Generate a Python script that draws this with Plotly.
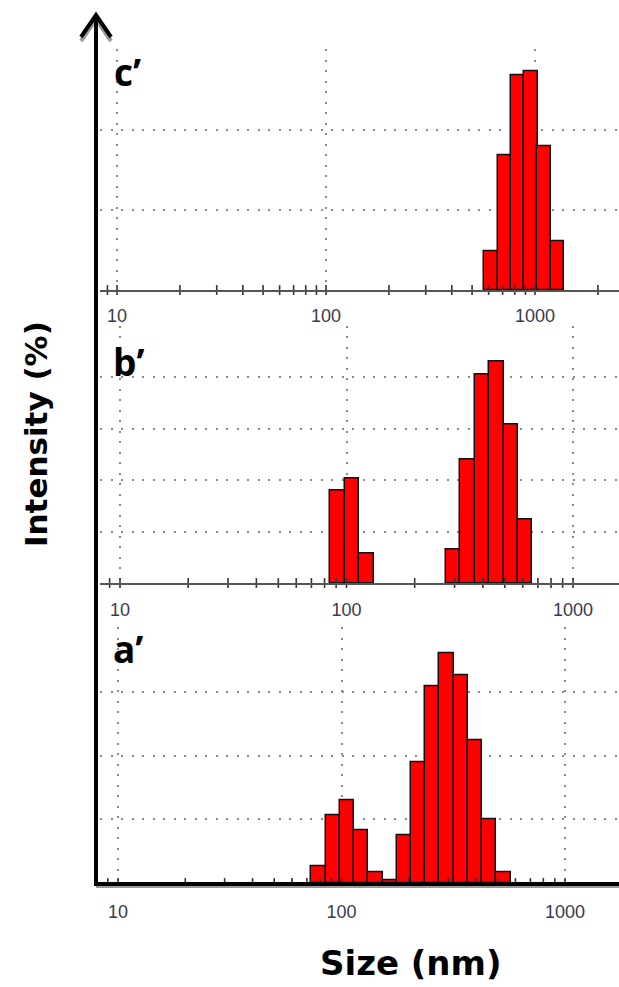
import numpy as np
import plotly.graph_objects as go

# ---------------- data ----------------
sizes_a = [78.82, 91.28, 105.7, 122.4, 141.8, 164.2, 190.1, 220.2, 255.0, 295.3, 342.0, 396.1, 458.7, 531.2]
intensity_a = [1.3, 5.3, 6.5, 4.1, 0.8, 0.2, 3.7, 9.5, 15.4, 18.0, 16.3, 11.2, 5.0, 0.8]
sizes_b = [91.28, 105.7, 122.4, 295.3, 342.0, 396.1, 458.7, 531.2, 615.1]
intensity_b = [9.0, 10.1, 2.9, 3.3, 12.0, 20.2, 21.5, 15.4, 6.2]
sizes_c = [615.1, 712.4, 825.0, 955.4, 1106, 1281]
intensity_c = [4.9, 16.9, 26.9, 27.4, 18.0, 6.1]
tick_vals_nm = [10, 100, 1000]
tick_text = ["10", "100", "1000"]
panel_labels = ["a’", "b’", "c’"]
x_title = "Size (nm)"
y_title = "Intensity (%)"
bin_ratio = 1.1581  # Malvern size-class ratio

W, H = 619, 987
def xp(px):
    return px / W
def yp(py):
    return 1 - py / H

# pixel geometry of the three pasted panels (bottom, middle, top)
geo = [
    dict(sizes=sizes_a, vals=intensity_a, base=883, ppu=12.75, ymax=20.05, grid=[5, 10, 15, 20], x10=118, dec=223.5, lab=(111, 648), standoff=11),
    dict(sizes=sizes_b, vals=intensity_b, base=583, ppu=10.3, ymax=25.0, grid=[5, 10, 15, 20], x10=120, dec=226.5, lab=(111, 362), standoff=9),
    dict(sizes=sizes_c, vals=intensity_c, base=290, ppu=8.0, ymax=30.1, grid=[10, 20, 30], x10=117, dec=209, lab=(112, 71), standoff=8),
]
left_px, right_px = 100, 619
bw = np.log10(bin_ratio)

fig = go.Figure()
layout = dict(width=W, height=H, margin=dict(l=0, r=0, t=0, b=0),
              plot_bgcolor="white", paper_bgcolor="white", showlegend=False,
              bargap=0)

grid_style = dict(showgrid=True, gridcolor="#8a8a8a", gridwidth=1.8, griddash="2px,8.5px")
annotations = []
for i, g in enumerate(geo):
    sfx = "" if i == 0 else str(i + 1)
    xr = [1 + (left_px - g["x10"]) / g["dec"], 1 + (right_px - g["x10"]) / g["dec"]]
    top_py = g["base"] - g["ymax"] * g["ppu"]
    fig.add_trace(go.Bar(x=np.log10(g["sizes"]), y=g["vals"], width=bw,
                         marker=dict(color="#ff0000", line=dict(color="#111111", width=1.5)),
                         xaxis="x" + sfx, yaxis="y" + sfx, hoverinfo="skip"))
    # tick marks crossing the axis line (log major + minor)
    tv = []
    for k in range(0, 4):
        for m in range(1, 10):
            v = np.log10(m * 10 ** k)
            if xr[0] <= v <= xr[1]:
                tv.append(v)
    fig.add_trace(go.Scatter(x=tv, y=[0] * len(tv), mode="markers", cliponaxis=False,
                             marker=dict(symbol="line-ns", size=7, line=dict(color="#333333", width=1.6)),
                             xaxis="x" + sfx, yaxis="y" + sfx, hoverinfo="skip"))
    layout["xaxis" + sfx] = dict(domain=[xp(left_px), 1], range=xr, anchor="y" + sfx,
                                 tickvals=list(np.log10(tick_vals_nm)), ticktext=tick_text,
                                 ticks="", ticklabelstandoff=g["standoff"],
                                 tickfont=dict(family="Liberation Sans, Arial", size=18, color="#3a3a4c"),
                                 showline=True, linecolor="#555555", linewidth=2,
                                 zeroline=False, **grid_style)
    layout["yaxis" + sfx] = dict(domain=[yp(g["base"]), yp(top_py)], range=[0, g["ymax"]],
                                 anchor="x" + sfx, tickvals=g["grid"], showticklabels=False,
                                 ticks="", showline=False, zeroline=False, **grid_style)
    annotations.append(dict(x=xp(g["lab"][0]), y=yp(g["lab"][1]), xref="paper", yref="paper",
                            text="<b>" + panel_labels[i] + "</b>", showarrow=False,
                            xanchor="left", yanchor="middle",
                            font=dict(family="Open Sans", size=37, color="black")))

annotations.append(dict(x=xp(411), y=yp(963), xref="paper", yref="paper", text="<b>" + x_title + "</b>",
                        showarrow=False, xanchor="center", yanchor="middle",
                        font=dict(family="DejaVu Sans", size=34, color="black")))
annotations.append(dict(x=xp(36), y=yp(434), xref="paper", yref="paper", text="<b>" + y_title + "</b>",
                        showarrow=False, xanchor="center", yanchor="middle", textangle=-90,
                        font=dict(family="DejaVu Sans", size=31, color="black")))
layout["annotations"] = annotations

# arrow-style y axis and thick bottom line
ax_x = 96
shapes = [
    dict(type="path", xref="paper", yref="paper",
         path=f"M {xp(81)},{yp(41)} L {xp(ax_x)},{yp(19)} L {xp(111)},{yp(41)}",
         line=dict(color="#9a9a9a", width=4)),
    dict(type="line", xref="paper", yref="paper", x0=xp(ax_x), x1=xp(619), y0=yp(887), y1=yp(887),
         line=dict(color="#9a9a9a", width=2)),
    dict(type="line", xref="paper", yref="paper", x0=xp(ax_x), x1=xp(ax_x), y0=yp(886), y1=yp(16),
         line=dict(color="black", width=4)),
    dict(type="path", xref="paper", yref="paper",
         path=f"M {xp(81)},{yp(37)} L {xp(ax_x)},{yp(15)} L {xp(111)},{yp(37)}",
         line=dict(color="black", width=4)),
    dict(type="line", xref="paper", yref="paper", x0=xp(ax_x - 2), x1=xp(619), y0=yp(884), y1=yp(884),
         line=dict(color="black", width=4)),
]
layout["shapes"] = shapes
fig.update_layout(**layout)
fig.write_html("out.html")
